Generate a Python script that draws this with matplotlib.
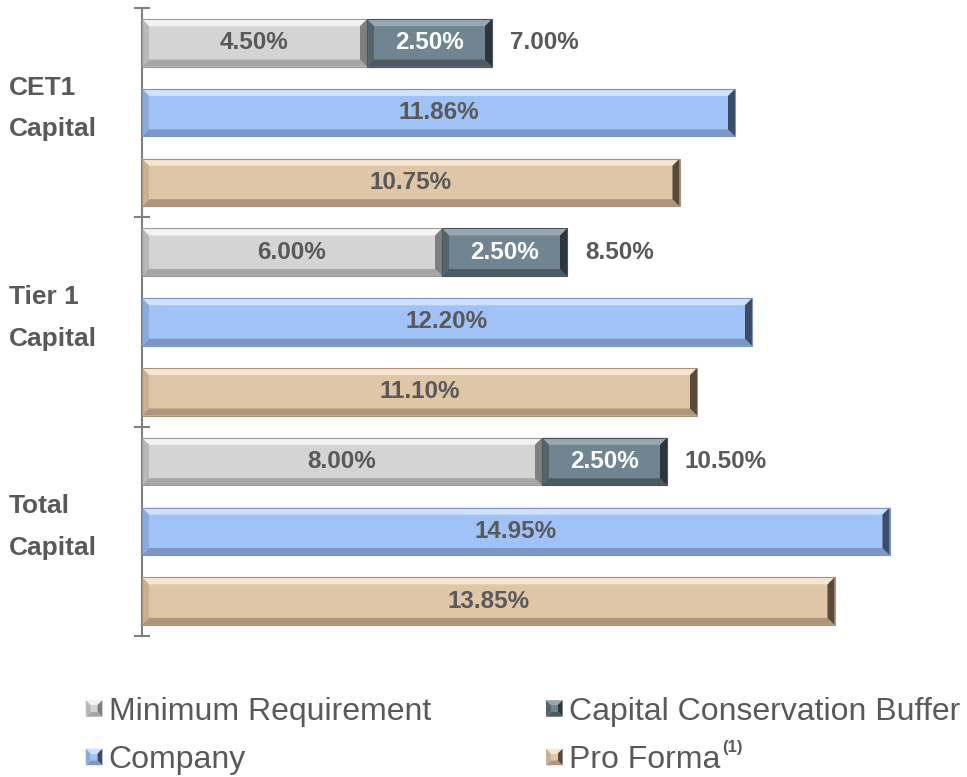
import matplotlib
matplotlib.use("Agg")
import matplotlib.pyplot as plt
from matplotlib.patches import Polygon, Rectangle
from matplotlib.legend_handler import HandlerBase
from matplotlib.transforms import blended_transform_factory
import numpy as np

plt.rcParams['font.family'] = ['Liberation Sans', 'DejaVu Sans']

# ---- data ----
categories = [["CET1", "Capital"], ["Tier 1", "Capital"], ["Total", "Capital"]]
minimum_req = [4.50, 6.00, 8.00]
buffer_req = [2.50, 2.50, 2.50]
company = [11.86, 12.20, 14.95]
pro_forma = [10.75, 11.10, 13.85]
series_names = ["Minimum Requirement", "Capital Conservation Buffer", "Company", "Pro Forma"]

# ---- styles ----
TXT = "#595959"
styles = {
    "min":  dict(face="#D4D4D4", top="#F2F2F2", bot="#A6A6A6", left="#B8B8B8", right="#7F7F7F", edge="#9A9A9A"),
    "buf":  dict(face="#718491", top="#98A8B2", bot="#4D5A62", left="#55636C", right="#2C363C", edge="#4A565E"),
    "comp": dict(face="#A1C2F7", top="#CFE1FC", bot="#7C97C6", left="#8DA9DA", right="#3D4C66", edge="#7C96C2"),
    "pf":   dict(face="#DFC6A7", top="#F4E6D3", bot="#AD967B", left="#C8B193", right="#574A3B", edge="#A8927A"),
}

W, H = 967, 777
fig = plt.figure(figsize=(W / 100, H / 100), dpi=100)
ax = fig.add_axes([142 / W, 1 - 636 / H, 800 / W, 628 / H])
ax.set_xlim(0, 16)
ax.set_ylim(9, 0)

bar_h = 0.68
n = len(categories)
y_min = np.arange(n) * 3 + 0.5
y_comp = np.arange(n) * 3 + 1.5
y_pf = np.arange(n) * 3 + 2.5


def bevel(ax, rect, st, b=7):
    """Overlay bevel facets on a bar patch (computed from its geometry)."""
    x0, y0 = rect.get_x(), rect.get_y()
    x1, y1 = x0 + rect.get_width(), y0 + rect.get_height()
    T = ax.transData
    (px0, py0), (px1, py1) = T.transform([(x0, y0), (x1, y1)])
    bx0, bx1 = min(px0, px1), max(px0, px1)
    by0, by1 = min(py0, py1), max(py0, py1)
    inv = T.inverted()
    facets = [
        ([(bx0, by1), (bx1, by1), (bx1 - b, by1 - b), (bx0 + b, by1 - b)], st["top"]),
        ([(bx0, by0), (bx1, by0), (bx1 - b, by0 + b), (bx0 + b, by0 + b)], st["bot"]),
        ([(bx0, by0), (bx0, by1), (bx0 + b, by1 - b), (bx0 + b, by0 + b)], st["left"]),
        ([(bx1, by0), (bx1, by1), (bx1 - b, by1 - b), (bx1 - b, by0 + b)], st["right"]),
    ]
    for pts, c in facets:
        ax.add_patch(Polygon(inv.transform(pts), closed=True, facecolor=c, edgecolor="none", zorder=3))
    ax.add_patch(Rectangle((x0, y0), x1 - x0, y1 - y0, facecolor="none",
                           edgecolor=st["edge"], linewidth=0.8, zorder=4))


b1 = ax.barh(y_min, minimum_req, height=bar_h, color=styles["min"]["face"], zorder=2)
b2 = ax.barh(y_min, buffer_req, left=minimum_req, height=bar_h, color=styles["buf"]["face"], zorder=2)
b3 = ax.barh(y_comp, company, height=bar_h, color=styles["comp"]["face"], zorder=2)
b4 = ax.barh(y_pf, pro_forma, height=bar_h, color=styles["pf"]["face"], zorder=2)

for bars, key in [(b1, "min"), (b2, "buf"), (b3, "comp"), (b4, "pf")]:
    for r in bars:
        bevel(ax, r, styles[key])

fs_bar = 17.5
for i in range(n):
    ax.text(minimum_req[i] / 2, y_min[i], f"{minimum_req[i]:.2f}%", ha="center", va="center",
            fontsize=fs_bar, fontweight="bold", color=TXT, zorder=5)
    ax.text(minimum_req[i] + buffer_req[i] / 2, y_min[i], f"{buffer_req[i]:.2f}%", ha="center",
            va="center", fontsize=fs_bar, fontweight="bold", color="white", zorder=5)
    tot = minimum_req[i] + buffer_req[i]
    ax.text(tot + 0.36, y_min[i], f"{tot:.2f}%", ha="left", va="center",
            fontsize=fs_bar, fontweight="bold", color=TXT, zorder=5)
    ax.text(company[i] / 2, y_comp[i], f"{company[i]:.2f}%", ha="center", va="center",
            fontsize=fs_bar, fontweight="bold", color=TXT, zorder=5)
    ax.text(pro_forma[i] / 2, y_pf[i], f"{pro_forma[i]:.2f}%", ha="center", va="center",
            fontsize=fs_bar, fontweight="bold", color=TXT, zorder=5)

# category labels
tr = blended_transform_factory(fig.transFigure, ax.transData)
for i, (l1, l2) in enumerate(categories):
    yc = i * 3 + 1.5
    ax.text(9 / W, yc - 0.36, l1, transform=tr, ha="left", va="center",
            fontsize=19, fontweight="bold", color=TXT)
    ax.text(9 / W, yc + 0.24, l2, transform=tr, ha="left", va="center",
            fontsize=19, fontweight="bold", color=TXT)

# axes styling
for s in ["top", "right", "bottom"]:
    ax.spines[s].set_visible(False)
ax.spines["left"].set_color("#7F7F7F")
ax.spines["left"].set_linewidth(1.5)
ax.set_xticks([])
ax.set_yticks(np.arange(0, 3 * n + 1, 3))
ax.set_yticklabels([])
ax.tick_params(axis="y", direction="inout", length=12, width=1.5, color="#7F7F7F")


# legend with bevelled squares
class BevelHandler(HandlerBase):
    def __init__(self, st):
        super().__init__()
        self.st = st

    def create_artists(self, legend, orig_handle, xdescent, ydescent, width, height, fontsize, trans):
        s = min(width, height)
        x0 = -xdescent + (width - s) / 2
        y0 = -ydescent + (height - s) / 2
        x1, y1 = x0 + s, y0 + s
        i = s * 0.3
        st = self.st
        arts = []
        for pts, c in [
            ([(x0, y1), (x1, y1), (x1 - i, y1 - i), (x0 + i, y1 - i)], st["top"]),
            ([(x0, y0), (x1, y0), (x1 - i, y0 + i), (x0 + i, y0 + i)], st["bot"]),
            ([(x0, y0), (x0, y1), (x0 + i, y1 - i), (x0 + i, y0 + i)], st["left"]),
            ([(x1, y0), (x1, y1), (x1 - i, y1 - i), (x1 - i, y0 + i)], st["right"]),
            ([(x0 + i, y0 + i), (x1 - i, y0 + i), (x1 - i, y1 - i), (x0 + i, y1 - i)], st["face"]),
        ]:
            arts.append(Polygon(pts, closed=True, facecolor=c, edgecolor="none", transform=trans))
        return arts


keys = ["min", "buf", "comp", "pf"]
handles = [Rectangle((0, 0), 1, 1) for _ in keys]
hmap = {h: BevelHandler(styles[k]) for h, k in zip(handles, keys)}
# legend fills column-wise: reorder so rows read Min/Buffer, Company/Pro Forma
order = [0, 2, 1, 3]
leg = fig.legend([handles[k] for k in order], [series_names[k] for k in order],
                 ncol=2, loc="upper left",
                 bbox_to_anchor=(57 / W, 1 - 668 / H), frameon=False,
                 fontsize=23, handlelength=0.52, handleheight=0.52, handletextpad=0.2,
                 columnspacing=3.6, labelspacing=0.58, handler_map=hmap)
for t in leg.get_texts():
    t.set_color(TXT)

fig.canvas.draw()
txt = [t for t in leg.get_texts() if t.get_text() == "Pro Forma"][0]
bb = txt.get_window_extent()
fig.text((bb.x1 + 2) / W, (bb.y1 + 5) / H, "(1)", ha="left", va="top",
         fontsize=12, fontweight="bold", color=TXT)

fig.savefig("out.png", dpi=100)
